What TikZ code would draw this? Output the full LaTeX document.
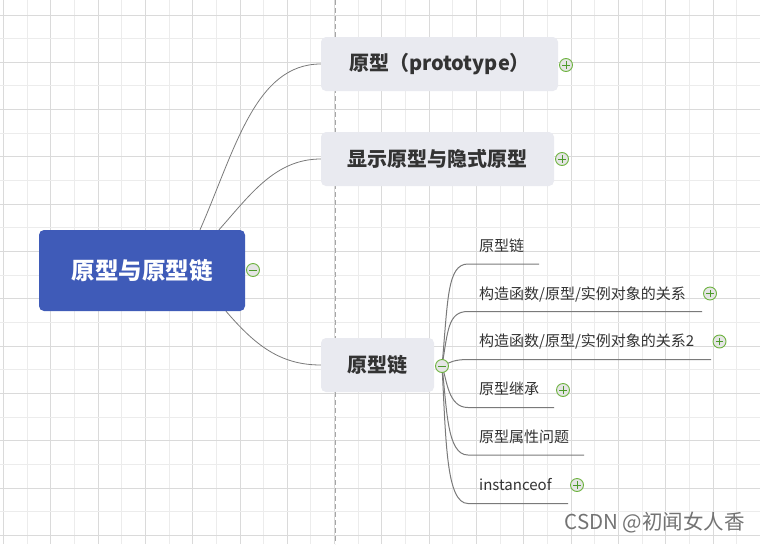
\documentclass[tikz,border=0pt]{standalone}
\usepackage{fontspec}
\setmainfont{Noto Sans CJK SC}
\usetikzlibrary{calc}
\definecolor{rootblue}{HTML}{3F5BB8}
\definecolor{topicgray}{HTML}{E9EAF0}
\definecolor{txt}{HTML}{333333}
\definecolor{linegray}{HTML}{7A7A7A}
\definecolor{gridA}{HTML}{DADADA}
\definecolor{gridB}{HTML}{ECECEC}
\definecolor{btngreen}{HTML}{6DB33F}
\definecolor{btnsign}{HTML}{4C9A2A}
\pgfdeclarelayer{grid}
\pgfdeclarelayer{lines}
\pgfsetlayers{grid,lines,main}
\begin{document}
\begin{tikzpicture}[x=1pt,y=-1pt,
  rootbox/.style={rectangle, rounded corners=5pt, fill=rootblue, text=white,
    font=\fontsize{23.5}{26}\selectfont\bfseries, minimum width=206pt, minimum height=81pt, inner sep=0pt},
  topicbox/.style={rectangle, rounded corners=5pt, fill=topicgray, text=txt,
    font=\fontsize{20}{23}\selectfont\bfseries, minimum height=54pt, inner sep=0pt},
  subtext/.style={anchor=west, text=txt, font=\fontsize{15}{17}\selectfont, inner sep=0pt},
  conn/.style={draw=linegray, line width=0.8pt},
  uline/.style={draw=linegray, line width=1pt},
  btn/.style={circle, draw=btngreen, line width=0.9pt, fill=white!90!black, minimum size=13pt, inner sep=0pt},
  minusb/.style={btn, path picture={\draw[btnsign, line width=1pt]
     ([xshift=-3.8pt]path picture bounding box.center) -- ++(7.6pt,0);}},
  plusb/.style={btn, path picture={\draw[btnsign, line width=1pt]
     ([xshift=-3.8pt]path picture bounding box.center) -- ++(7.6pt,0)
     ([yshift=-3.8pt]path picture bounding box.center) -- ++(0,7.6pt);}}
]
\useasboundingbox (0,0) rectangle (760,544);
\begin{pgfonlayer}{grid}
  \fill[white] (0,0) rectangle (760,544);
  \foreach \i in {0,...,32}{
    \pgfmathsetmacro\xx{3.5+23.65*\i}
    \pgfmathtruncatemacro\ev{mod(\i,2)}
    \ifnum\ev=0 \draw[gridA, line width=1pt] (\xx,0) -- (\xx,544);
    \else \draw[gridB, line width=1pt] (\xx,0) -- (\xx,544); \fi
  }
  \foreach \j in {0,...,22}{
    \pgfmathsetmacro\yy{15+23.65*\j}
    \pgfmathtruncatemacro\ev{mod(\j,2)}
    \ifnum\ev=0 \draw[gridA, line width=1pt] (0,\yy) -- (760,\yy);
    \else \draw[gridB, line width=1pt] (0,\yy) -- (760,\yy); \fi
  }
  \draw[gray!70, line width=0.8pt, dash pattern=on 5pt off 3pt] (335,0) -- (335,544);
\end{pgfonlayer}

% main nodes
\node[rootbox] (root) at (142,270.5) {原型与原型链};
\node[topicbox, minimum width=237pt] (t1) at (439.5,64) {原型（prototype）};
\node[topicbox, minimum width=233pt] (t2) at (437.5,159) {显示原型与隐式原型};
\node[topicbox, minimum width=113pt] (t3) at (377.5,365) {原型链};

\node[minusb] (m0) at (253,270) {};
\node[plusb] (p1) at (566,65) {};
\node[plusb] (p2) at (562,159) {};
\node[minusb] (m3) at (442,366) {};

% sub topics
\node[subtext] (c1) at (479,246) {原型链};
\node[subtext] (c2) at (479,294) {构造函数/原型/实例对象的关系};
\node[subtext] (c3) at (479,341.5) {构造函数/原型/实例对象的关系2};
\node[subtext] (c4) at (479,389) {原型继承};
\node[subtext] (c5) at (479,437) {原型属性问题};
\node[subtext] (c6) at (479,485) {instanceof};

\node[plusb] (p22) at (710,293.5) {};
\node[plusb] (p23) at (719.5,341.5) {};
\node[plusb] (p24) at (563,390) {};
\node[plusb] (p26) at (577,485) {};

\coordinate (u1) at (539,264);
\coordinate (u2) at (702,311.5);
\coordinate (u3) at (711,359.5);
\coordinate (u4) at (554,407.5);
\coordinate (u5) at (584,455);
\coordinate (u6) at (568,503.5);

\begin{pgfonlayer}{lines}
  \draw[conn] ([xshift=58pt]root.north) .. controls (235,150) and (255,64) .. (t1.west);
  \draw[conn] ([xshift=77pt]root.north) .. controls (250,195) and (275,159) .. (t2.west);
  \draw[conn] ([xshift=84pt]root.south) .. controls (255,345) and (280,365) .. (t3.west);

  \draw[uline] (m3.center) .. controls (448,300) and (447,264) .. (468,264) -- (u1);
  \draw[uline] (m3.center) .. controls (448,330) and (448,311.5) .. (468,311.5) -- (u2);
  \draw[uline] (m3.center) .. controls (450,362) and (455,359.5) .. (468,359.5) -- (u3);
  \draw[uline] (m3.center) .. controls (447,380) and (448,407.5) .. (468,407.5) -- (u4);
  \draw[uline] (m3.center) .. controls (447,410) and (447,455) .. (468,455) -- (u5);
  \draw[uline] (m3.center) .. controls (446,440) and (446,503.5) .. (468,503.5) -- (u6);
\end{pgfonlayer}

% watermark
\node[anchor=east, text=black!55, font=\fontsize{20.5}{22}\selectfont, inner sep=0pt] (wm) at (745,523) {CSDN @初闻女人香};
\end{tikzpicture}
\end{document}
